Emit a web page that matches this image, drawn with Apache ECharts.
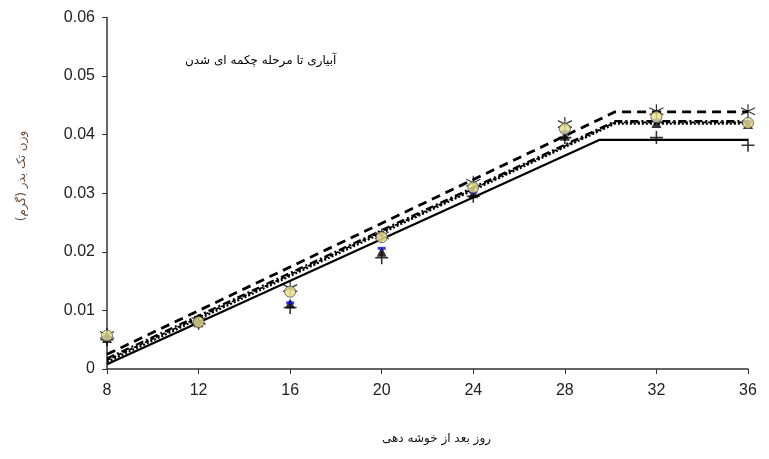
<!DOCTYPE html>
<html><head><meta charset="utf-8">
<script src="https://cdn.jsdelivr.net/npm/echarts@6/dist/echarts.min.js"></script>
<style>html,body{margin:0;padding:0;background:#fff}#c{width:769px;height:459px}</style>
</head><body><div id="c"></div>
<script>
var days = [8, 12, 16, 20, 24, 28, 32, 36];
var yTicks = ['0', '0.01', '0.02', '0.03', '0.04', '0.05', '0.06'];
var obsCircle = [0.0057, 0.0080, 0.0132, 0.0225, 0.0310, 0.0410, 0.0430, 0.0420];
var obsStar = [0.0058, 0.0082, 0.0138, 0.0228, 0.0318, 0.0418, 0.0440, 0.0440];
var obsPlus = [0.0050, 0.0078, 0.0105, 0.0190, 0.0295, 0.0395, 0.0395, 0.0382];
var obsTriangle = [0.0053, 0.0080, 0.0112, 0.0200, 0.0300, 0.0398, 0.0420, 0.0418];
var obsBlue = [0.0055, 0.0080, 0.0113, 0.0206, 0.0302, 0.0405, 0.0425, 0.0422];
// fitted bilinear lines: [day, value] vertices
var fitSolid = [[8, 0.0008], [29.5, 0.0391], [36, 0.0391]];
var fitDash = [[8, 0.0025], [30.2, 0.0439], [36, 0.0439]];
var fitDashDot = [[8, 0.0018], [30.2, 0.0423], [36, 0.0423]];
var fitDotted = [[8, 0.0012], [30.2, 0.0419], [36, 0.0419]];
var fitFine = [[8, 0.0015], [30.2, 0.0421], [36, 0.0421]];
var titleText = 'آبیاری تا مرحله چکمه ای شدن';
var xName = 'روز بعد از خوشه دهی';
var yName = 'وزن تک بذر (گرم)';

function pts(arr) { return days.map(function (d, i) { return [d, arr[i]]; }); }
var chart = echarts.init(document.getElementById('c'));
var font = 'Liberation Sans, Arial, sans-serif';
function lineS(data, type, w) {
  return { type: 'line', data: data, symbol: 'none', silent: true, z: 2,
    lineStyle: { color: '#000', width: w, type: type } };
}
function scat(data, symbol, size, style) {
  return { type: 'scatter', data: pts(data), symbol: symbol, symbolSize: size, z: 5, itemStyle: style };
}
chart.setOption({
  animation: false,
  grid: { left: 107, right: 21, top: 17.5, bottom: 90 },
  title: { text: titleText, left: 180, top: 50, textStyle: { fontSize: 12, fontWeight: 'normal', color: '#000', fontFamily: 'DejaVu Sans, sans-serif' } },
  graphic: [{
    type: 'text', x: 22, y: 176, rotation: Math.PI / 2,
    style: { text: yName, fontSize: 12, fill: '#6b4f3a', fontFamily: 'DejaVu Sans, sans-serif', align: 'center', verticalAlign: 'middle' }
  }],
  xAxis: {
    type: 'value', min: 8, max: 36, interval: 4,
    name: xName, nameLocation: 'middle', nameGap: 64,
    nameTextStyle: { fontSize: 12, color: '#111', fontFamily: 'DejaVu Sans, sans-serif', padding: [0, 0, 0, 18] },
    axisLine: { lineStyle: { color: '#333', width: 1.5 } },
    axisTick: { length: 5, lineStyle: { color: '#333' } },
    axisLabel: { fontSize: 16, color: '#222', margin: 14, fontFamily: font },
    splitLine: { show: false }
  },
  yAxis: {
    type: 'value', min: 0, max: 0.06, interval: 0.01,
    axisLine: { show: true, lineStyle: { color: '#333', width: 1.5 } },
    axisTick: { show: true, length: 5, lineStyle: { color: '#333' } },
    axisLabel: { fontSize: 16, color: '#222', margin: 12, fontFamily: font,
      formatter: function (v) { return yTicks[Math.round(v * 100)]; } },
    splitLine: { show: false }
  },
  series: [
    lineS(fitSolid, 'solid', 2.2),
    lineS(fitDash, [9, 6], 2.8),
    lineS(fitDashDot, [8, 3, 2, 3], 2.2),
    lineS(fitDotted, [2, 2], 2.2),
    lineS(fitFine, [4, 2], 1.8),
    scat(obsPlus, 'path://M0,-6L0,6M-6,0L6,0', 13, { color: 'none', borderColor: '#000', borderWidth: 1.6 }),
    scat(obsTriangle, 'triangle', 10, { color: '#000' }),
    scat(obsBlue, 'rect', [8, 3], { color: '#1010e0' }),
    scat(obsStar, 'path://M0,-6L0,6M-5.2,-3L5.2,3M-5.2,3L5.2,-3', 14, { color: 'none', borderColor: '#000', borderWidth: 1.2 }),
    scat(obsCircle, 'circle', 11, { color: '#e8e08a', borderColor: '#555', borderWidth: 1 })
  ]
});
</script></body></html>
